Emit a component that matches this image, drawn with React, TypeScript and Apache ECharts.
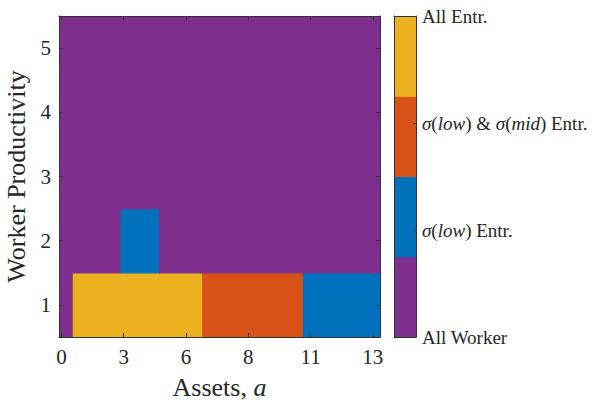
import React, { useEffect, useRef } from "react";
import * as echarts from "echarts";

// Asset grid: tick positions (grid index) and the asset values printed there
const assetTickIdx = [0, 13, 26, 39, 52, 65];
const assetTickLabels = ["0", "3", "6", "8", "11", "13"];
const assetGridSize = 67;

// Worker productivity levels (rows)
const productivityLevels = [1, 2, 3, 4, 5];

// Occupational regimes, colours and colorbar labels
const regimeColors = ["#7E2F8E", "#0072BD", "#D95319", "#EDB120"];
const colorbarTicks = [0, 1, 2, 3];
const colorbarLabels = [
  "All Worker",
  "{i|σ}({i|low}) Entr.",
  "{i|σ}({i|low}) & {i|σ}({i|mid}) Entr.",
  "All Entr.",
];
// colorbar segments: [from, to, regime]
const colorbarSegments = [
  [0, 0.75, 0],
  [0.75, 1.5, 1],
  [1.5, 2.25, 2],
  [2.25, 3, 3],
];

// Regime map as runs: [productivity level, first asset index, last asset index, regime]
const regimeRuns = [
  [1, 0, 2, 0],
  [1, 3, 29, 3],
  [1, 30, 50, 2],
  [1, 51, 66, 1],
  [2, 0, 12, 0],
  [2, 13, 20, 1],
  [2, 21, 66, 0],
  [3, 0, 66, 0],
  [4, 0, 66, 0],
  [5, 0, 66, 0],
];

const FONT = "'Liberation Serif', 'Times New Roman', serif";
const AXIS_COLOR = "#333333";
const TEXT_COLOR = "#262626";

function boxAxis(extra: any) {
  return {
    type: "value",
    z: 5,
    axisLine: { show: true, onZero: false, lineStyle: { color: AXIS_COLOR, width: 1 } },
    axisTick: { show: false },
    axisLabel: { show: false },
    splitLine: { show: false },
    ...extra,
  };
}

function ticks(values: number[], length: number) {
  return {
    show: true,
    inside: true,
    length,
    customValues: values,
    lineStyle: { color: AXIS_COLOR },
  };
}

export default function App() {
  const ref = useRef<HTMLDivElement>(null);

  useEffect(() => {
    if (!ref.current) return;
    const chart = echarts.init(ref.current, null, { renderer: "svg" });

    const tickLabelStyle = {
      fontFamily: FONT,
      fontSize: 21,
      color: TEXT_COLOR,
    };

    const cellRect = (p0: number[], p1: number[], color: string) => ({
      type: "rect",
      shape: { x: p0[0], y: p0[1], width: p1[0] - p0[0], height: p1[1] - p0[1] },
      style: { fill: color, stroke: color, lineWidth: 1.2 },
    });

    const option: any = {
      animation: false,
      backgroundColor: "#ffffff",
      grid: [
        { left: 59, top: 16, width: 321, height: 321, outerBoundsMode: "none" },
        { left: 394, top: 16, width: 22, height: 321, outerBoundsMode: "none" },
      ],
      xAxis: [
        boxAxis({
          gridIndex: 0,
          min: -0.5,
          max: assetGridSize - 0.5,
          position: "bottom",
          axisTick: ticks(assetTickIdx, 4),
          axisLabel: {
            show: true,
            margin: 9,
            customValues: assetTickIdx,
            formatter: (v: number) => assetTickLabels[assetTickIdx.indexOf(Math.round(v))] ?? "",
            ...tickLabelStyle,
          },
          name: "{r|Assets, }{i|a}",
          nameLocation: "middle",
          nameGap: 37,
          nameTextStyle: {
            rich: {
              r: { fontFamily: FONT, fontSize: 26, color: TEXT_COLOR },
              i: { fontFamily: FONT, fontSize: 26, fontStyle: "italic", color: TEXT_COLOR },
            },
          },
        }),
        boxAxis({
          gridIndex: 0,
          min: -0.5,
          max: assetGridSize - 0.5,
          position: "top",
          axisTick: ticks(assetTickIdx, 4),
        }),
        boxAxis({ gridIndex: 1, min: 0, max: 1, position: "bottom" }),
        boxAxis({ gridIndex: 1, min: 0, max: 1, position: "top" }),
      ],
      yAxis: [
        boxAxis({
          gridIndex: 0,
          min: 0.5,
          max: 5.5,
          position: "left",
          axisTick: ticks(productivityLevels, 4),
          axisLabel: {
            show: true,
            margin: 8,
            customValues: productivityLevels,
            formatter: (v: number) => String(Math.round(v)),
            ...tickLabelStyle,
          },
          name: "Worker Productivity",
          nameLocation: "middle",
          nameGap: 30,
          nameTextStyle: { fontFamily: FONT, fontSize: 26, color: TEXT_COLOR },
        }),
        boxAxis({
          gridIndex: 0,
          min: 0.5,
          max: 5.5,
          position: "right",
          axisTick: ticks(productivityLevels, 4),
        }),
        boxAxis({ gridIndex: 1, min: 0, max: 3, position: "left" }),
        boxAxis({
          gridIndex: 1,
          min: 0,
          max: 3,
          interval: 1,
          position: "right",
          axisTick: ticks(colorbarTicks, 3),
          axisLabel: {
            show: true,
            margin: 6,
            customValues: colorbarTicks,
            formatter: (v: number) => colorbarLabels[Math.round(v)] ?? "",
            fontFamily: FONT,
            fontSize: 19,
            color: TEXT_COLOR,
            rich: {
              i: { fontFamily: FONT, fontSize: 19, fontStyle: "italic", color: TEXT_COLOR },
            },
          },
        }),
      ],
      series: [
        {
          type: "custom",
          xAxisIndex: 0,
          yAxisIndex: 0,
          clip: true,
          data: regimeRuns,
          encode: { x: [1, 2], y: 0 },
          renderItem: (_params: any, api: any) => {
            const lvl = api.value(0);
            const a0 = api.value(1);
            const a1 = api.value(2);
            const reg = api.value(3);
            const p0 = api.coord([a0 - 0.5, lvl + 0.5]);
            const p1 = api.coord([a1 + 0.5, lvl - 0.5]);
            return cellRect(p0, p1, regimeColors[reg]);
          },
          z: 2,
        },
        {
          type: "custom",
          xAxisIndex: 2,
          yAxisIndex: 2,
          clip: true,
          data: colorbarSegments,
          encode: { y: [0, 1] },
          renderItem: (_params: any, api: any) => {
            const y0 = api.value(0);
            const y1 = api.value(1);
            const reg = api.value(2);
            const p0 = api.coord([0, y1]);
            const p1 = api.coord([1, y0]);
            return cellRect(p0, p1, regimeColors[reg]);
          },
          z: 2,
        },
      ],
    };

    chart.setOption(option);
    return () => chart.dispose();
  }, []);

  return (
    <div
      ref={ref}
      style={{ position: "fixed", left: 0, top: 0, width: 601, height: 401, background: "#fff" }}
    />
  );
}
